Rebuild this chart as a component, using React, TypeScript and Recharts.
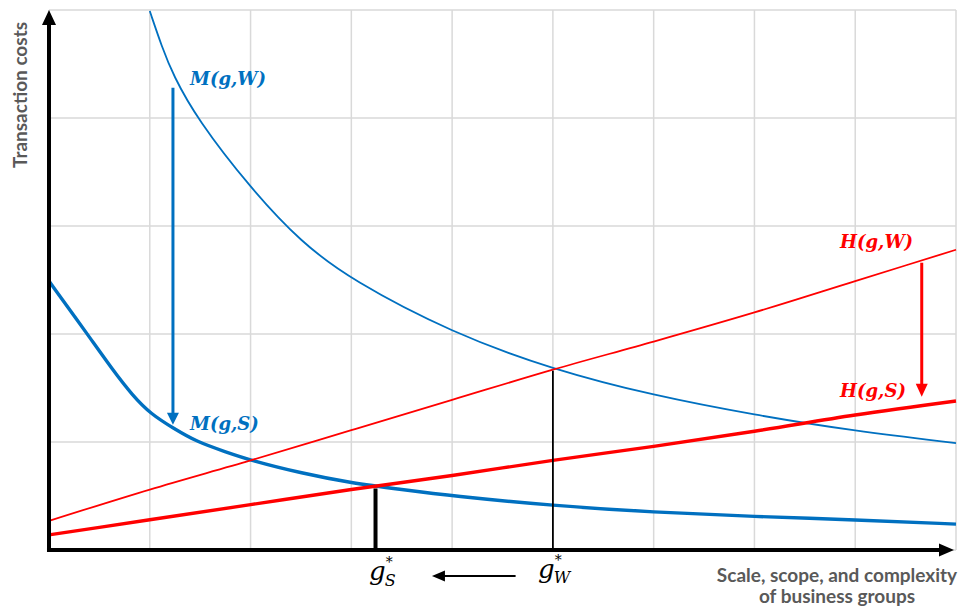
import React from 'react';
import {
  ComposedChart,
  Line,
  XAxis,
  YAxis,
  CartesianGrid,
  ReferenceLine,
  ReferenceDot,
} from 'recharts';

// grid positions (scale units)
const gridX = [0, 1, 2, 3, 4, 5, 6, 7, 8, 9];
const gridY = [0, 1, 2, 3, 4, 5];

// M(g,W): market costs, weak institutions
const marketWeak = [
  { g: 1.0, cost: 4.99 },
  { g: 1.12, cost: 4.66 },
  { g: 1.23, cost: 4.4 },
  { g: 1.47, cost: 3.99 },
  { g: 2.0, cost: 3.35 },
  { g: 2.5, cost: 2.85 },
  { g: 3.0, cost: 2.5 },
  { g: 4.0, cost: 2.01 },
  { g: 5.0, cost: 1.67 },
  { g: 6.0, cost: 1.43 },
  { g: 7.0, cost: 1.25 },
  { g: 8.0, cost: 1.1 },
  { g: 9.0, cost: 0.99 },
];

// M(g,S): market costs, strong institutions
const marketStrong = [
  { g: 0, cost: 2.49 },
  { g: 0.38, cost: 2.0 },
  { g: 0.63, cost: 1.67 },
  { g: 0.83, cost: 1.43 },
  { g: 1.01, cost: 1.26 },
  { g: 1.23, cost: 1.13 },
  { g: 1.47, cost: 1.0 },
  { g: 1.75, cost: 0.91 },
  { g: 2.0, cost: 0.83 },
  { g: 2.51, cost: 0.71 },
  { g: 3.0, cost: 0.62 },
  { g: 3.5, cost: 0.56 },
  { g: 4.0, cost: 0.5 },
  { g: 5.0, cost: 0.41 },
  { g: 6.0, cost: 0.35 },
  { g: 7.0, cost: 0.31 },
  { g: 8.0, cost: 0.28 },
  { g: 9.0, cost: 0.24 },
];

// H(g,W): hierarchy costs, weak institutions
const hierarchyWeak = [
  { g: 0, cost: 0.27 },
  { g: 1, cost: 0.56 },
  { g: 2, cost: 0.83 },
  { g: 3, cost: 1.11 },
  { g: 4, cost: 1.39 },
  { g: 5, cost: 1.67 },
  { g: 6, cost: 1.93 },
  { g: 7, cost: 2.2 },
  { g: 8, cost: 2.49 },
  { g: 9, cost: 2.78 },
];

// H(g,S): hierarchy costs, strong institutions
const hierarchyStrong = [
  { g: 0, cost: 0.14 },
  { g: 1, cost: 0.28 },
  { g: 2, cost: 0.42 },
  { g: 3, cost: 0.56 },
  { g: 4, cost: 0.69 },
  { g: 5, cost: 0.83 },
  { g: 6, cost: 0.96 },
  { g: 7, cost: 1.1 },
  { g: 8, cost: 1.25 },
  { g: 9, cost: 1.38 },
];

// optimum points
const gStarS = { g: 3.24, cost: 0.57 };
const gStarW = { g: 5.0, cost: 1.66 };

// shift arrows
const blueShift = { g: 1.23, from: 4.28, to: 1.16 };
const redShift = { g: 8.66, from: 2.66, to: 1.42 };
const optimumShift = { from: 4.63, to: 3.8, at: -0.24 };

const BLUE = '#0070c0';
const RED = '#ff0000';
const GRID = '#d9d9d9';
const LABEL_GREY = '#595959';

type Dir = 'up' | 'down' | 'left' | 'right';

function arrowHead(dir: Dir, color: string, len: number, half: number) {
  return (props: any) => {
    const { cx, cy } = props;
    let d = '';
    if (dir === 'down') d = `M${cx},${cy} L${cx - half},${cy - len} L${cx + half},${cy - len} Z`;
    if (dir === 'up') d = `M${cx},${cy} L${cx - half},${cy + len} L${cx + half},${cy + len} Z`;
    if (dir === 'left') d = `M${cx},${cy} L${cx + len},${cy - half} L${cx + len},${cy + half} Z`;
    if (dir === 'right') d = `M${cx},${cy} L${cx - len},${cy - half} L${cx - len},${cy + half} Z`;
    return <path d={d} fill={color} stroke="none" />;
  };
}

const mathFont = '"DejaVu Serif", serif';
const labelFont = 'Lato, "Open Sans", sans-serif';

export default function App() {
  return (
    <div style={{ position: 'absolute', left: 0, top: 0, width: 966, height: 608, background: '#fff' }}>
      <ComposedChart
        width={966}
        height={608}
        margin={{ top: 10, right: 10, bottom: 58, left: 49 }}
      >
        <XAxis dataKey="g" type="number" domain={[0, 9]} ticks={gridX} hide allowDuplicatedCategory={false} />
        <YAxis type="number" domain={[0, 5]} ticks={gridY} hide allowDataOverflow />
        <CartesianGrid stroke={GRID} strokeWidth={1.5} />

        <Line data={marketWeak} dataKey="cost" type="basis" stroke={BLUE} strokeWidth={1.8} dot={false} isAnimationActive={false} />
        <Line data={marketStrong} dataKey="cost" type="basis" stroke={BLUE} strokeWidth={3.4} dot={false} isAnimationActive={false} />
        <Line data={hierarchyWeak} dataKey="cost" type="monotone" stroke={RED} strokeWidth={1.8} dot={false} isAnimationActive={false} />
        <Line data={hierarchyStrong} dataKey="cost" type="monotone" stroke={RED} strokeWidth={3.4} dot={false} isAnimationActive={false} />

        {/* drop lines to the optimum */}
        <ReferenceLine segment={[{ x: gStarS.g, y: 0 }, { x: gStarS.g, y: gStarS.cost }]} stroke="#000" strokeWidth={4} ifOverflow="visible" />
        <ReferenceLine segment={[{ x: gStarW.g, y: 0 }, { x: gStarW.g, y: gStarW.cost }]} stroke="#000" strokeWidth={1.8} ifOverflow="visible" />

        {/* shift arrows */}
        <ReferenceLine segment={[{ x: blueShift.g, y: blueShift.from }, { x: blueShift.g, y: blueShift.to + 0.1 }]} stroke={BLUE} strokeWidth={3} ifOverflow="visible" />
        <ReferenceDot x={blueShift.g} y={blueShift.to} r={1} ifOverflow="visible" shape={arrowHead('down', BLUE, 12, 6)} />
        <ReferenceLine segment={[{ x: redShift.g, y: redShift.from }, { x: redShift.g, y: redShift.to + 0.1 }]} stroke={RED} strokeWidth={3} ifOverflow="visible" />
        <ReferenceDot x={redShift.g} y={redShift.to} r={1} ifOverflow="visible" shape={arrowHead('down', RED, 13, 6)} />
        <ReferenceLine segment={[{ x: optimumShift.from, y: optimumShift.at }, { x: optimumShift.to + 0.08, y: optimumShift.at }]} stroke="#000" strokeWidth={2} ifOverflow="visible" />
        <ReferenceDot x={optimumShift.to} y={optimumShift.at} r={1} ifOverflow="visible" shape={arrowHead('left', '#000', 13, 5.5)} />

        {/* axes with arrowheads */}
        <ReferenceLine segment={[{ x: 0, y: 0 }, { x: 0, y: 4.88 }]} stroke="#000" strokeWidth={4} ifOverflow="visible" />
        <ReferenceDot x={0} y={5} r={1} ifOverflow="visible" shape={arrowHead('up', '#000', 15, 7)} />
        <ReferenceLine segment={[{ x: -0.02, y: 0 }, { x: 8.85, y: 0 }]} stroke="#000" strokeWidth={4} ifOverflow="visible" />
        <ReferenceDot x={8.98} y={0} r={1} ifOverflow="visible" shape={arrowHead('right', '#000', 15, 6.5)} />
      </ComposedChart>

      <svg width={966} height={608} style={{ position: 'absolute', left: 0, top: 0, pointerEvents: 'none' }}>
        <g fontFamily={mathFont} fontStyle="italic" fontWeight="bold" fontSize={18}>
          <text x={190} y={85} fill={BLUE}>M(g,W)</text>
          <text x={190} y={430} fill={BLUE}>M(g,S)</text>
          <text x={840} y={248} fill={RED}>H(g,W)</text>
          <text x={840} y={397} fill={RED}>H(g,S)</text>
        </g>
        <g fontFamily={mathFont} fontStyle="italic" fill="#000">
          <text x={369} y={580} fontSize={26}>
            g<tspan fontSize={14} dy={-13}>*</tspan>
            <tspan fontSize={16} dx={-8} dy={19}>S</tspan>
          </text>
          <text x={538} y={578} fontSize={26}>
            g<tspan fontSize={14} dy={-13}>*</tspan>
            <tspan fontSize={16} dx={-8} dy={18}>W</tspan>
          </text>
        </g>
        <text
          x={27}
          y={95}
          transform="rotate(-90 27 95)"
          textAnchor="middle"
          fontFamily={labelFont}
          fontWeight="bold"
          fontSize={19}
          fill={LABEL_GREY}
        >
          Transaction costs
        </text>
        <g fontFamily={labelFont} fontWeight="bold" fontSize={19} fill={LABEL_GREY} textAnchor="middle">
          <text x={837} y={582}>Scale, scope, and complexity</text>
          <text x={837} y={603}>of business groups</text>
        </g>
      </svg>
    </div>
  );
}
